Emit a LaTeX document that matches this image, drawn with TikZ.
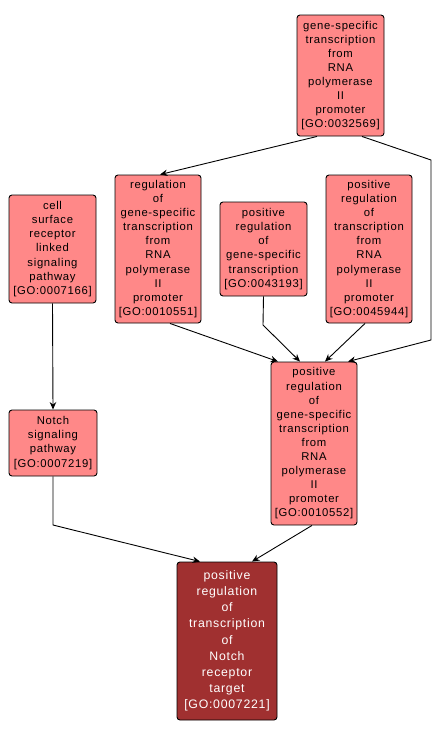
\documentclass[tikz,border=0pt]{standalone}
\usepackage{fontspec}
\setmainfont{Liberation Sans}
\newfontfamily\gofont[LetterSpace=6]{Liberation Sans}
\usetikzlibrary{arrows.meta}
\definecolor{golight}{RGB}{255,136,136}
\definecolor{godark}{RGB}{160,48,48}
\tikzset{
  goterm/.style={draw=black, line width=0.9pt, rounded corners=3pt, fill=golight,
    align=center, inner sep=0pt, text=black,
    font={\gofont\fontsize{11.3}{14.1}\selectfont}},
  goroot/.style={goterm, fill=godark, text=white,
    font={\gofont\fontsize{12.3}{16.2}\selectfont}},
  goedge/.style={draw=black, line width=0.9pt, -{Stealth[length=7.5pt,width=6.5pt]}}
}
\begin{document}
\begin{tikzpicture}[x=1pt,y=-1pt]
\useasboundingbox (0,0) rectangle (441,737);
\node[goterm, minimum width=87pt, minimum height=121pt] (A) at (340.5,75.5)
  {gene-specific\\transcription\\from\\RNA\\polymerase\\II\\promoter\\{}[GO:0032569]};
\node[goterm, minimum width=86pt, minimum height=148pt] (B) at (158,249)
  {regulation\\of\\gene-specific\\transcription\\from\\RNA\\polymerase\\II\\promoter\\{}[GO:0010551]};
\node[goterm, minimum width=87pt, minimum height=94pt] (C) at (263.5,249)
  {positive\\regulation\\of\\gene-specific\\transcription\\{}[GO:0043193]};
\node[goterm, minimum width=86pt, minimum height=148pt] (D) at (369,249)
  {positive\\regulation\\of\\transcription\\from\\RNA\\polymerase\\II\\promoter\\{}[GO:0045944]};
\node[goterm, minimum width=87pt, minimum height=108pt] (E) at (52.5,249)
  {cell\\surface\\receptor\\linked\\signaling\\pathway\\{}[GO:0007166]};
\node[goterm, minimum width=86pt, minimum height=163pt] (F) at (314,443.5)
  {positive\\regulation\\of\\gene-specific\\transcription\\from\\RNA\\polymerase\\II\\promoter\\{}[GO:0010552]};
\node[goterm, minimum width=88pt, minimum height=66pt] (G) at (53,443)
  {Notch\\signaling\\pathway\\{}[GO:0007219]};
\node[goroot, minimum width=100pt, minimum height=158pt] (H) at (227,641)
  {positive\\regulation\\of\\transcription\\of\\Notch\\receptor\\target\\{}[GO:0007221]};
\coordinate (a1) at (431,160);
\coordinate (a2) at (431,340);
\coordinate (c1) at (263,325);
\coordinate (g1) at (53,525);
\draw[goedge] ([xshift=-23.5pt]A.south) -- ([xshift=2pt]B.north);
\draw[goedge] ([xshift=21.5pt]A.south) -- (a1) -- (a2) -- ([xshift=34pt]F.north);
\draw[goedge] ([xshift=12pt]B.south) -- ([xshift=-36pt]F.north);
\draw[goedge] (C.south) -- (c1) -- ([xshift=-14pt]F.north);
\draw[goedge] ([xshift=-4pt]D.south) -- ([xshift=11pt]F.north);
\draw[goedge] (E.south) -- (G.north);
\draw[goedge] (G.south) -- (g1) -- ([xshift=-27pt]H.north);
\draw[goedge] ([xshift=-2pt]F.south) -- ([xshift=25pt]H.north);
\end{tikzpicture}
\end{document}
